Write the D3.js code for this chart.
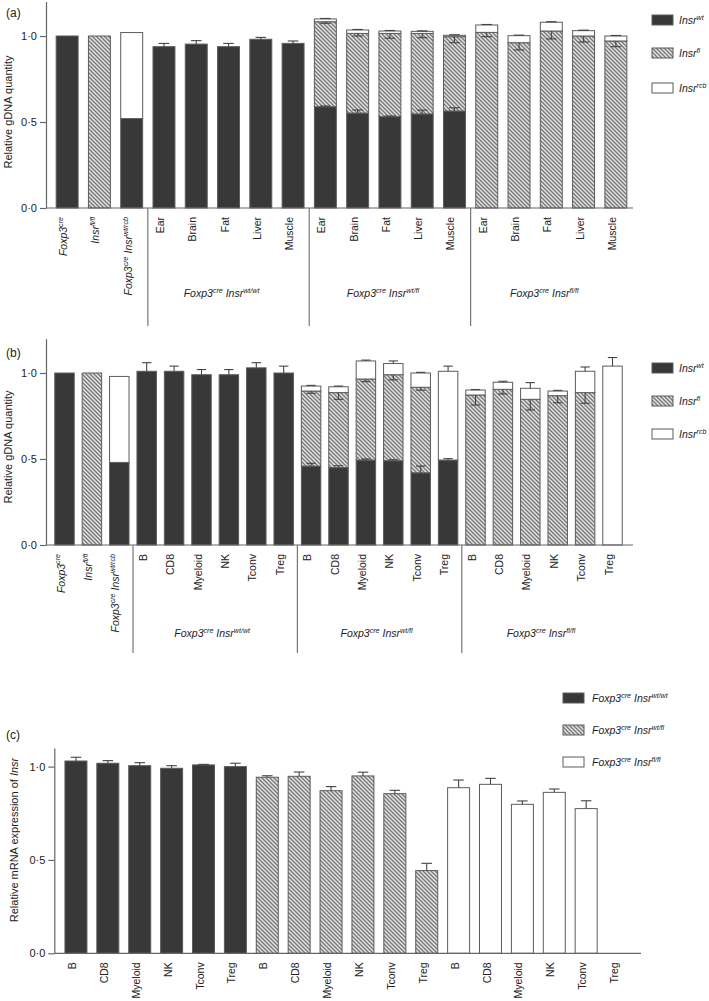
<!DOCTYPE html>
<html><head><meta charset="utf-8">
<script src="https://cdn.jsdelivr.net/npm/d3@7"></script>
<style>
body{margin:0;background:#fff}
text{font-family:"Liberation Sans",Arial,Helvetica,sans-serif;fill:#222}
</style>
</head><body>
<svg id="chart" width="709" height="1001"></svg>
<script>
// ---------------- DATA ----------------
// Panel (a): gDNA, tissues
const aCategories = ["Foxp3^{cre}","Insr^{fl/fl}","Foxp3^{cre} Insr^{wt/rcb}",
  "Ear","Brain","Fat","Liver","Muscle",
  "Ear","Brain","Fat","Liver","Muscle",
  "Ear","Brain","Fat","Liver","Muscle"];
const aWt     = [1.00,0,0.52, 0.938,0.953,0.938,0.981,0.957, 0.589,0.552,0.531,0.547,0.564, 0,0,0,0,0];
const aWtErr  = [0,0,0, 0.019,0.020,0.019,0.011,0.014, 0.004,0.018,0.004,0.022,0.019, 0,0,0,0,0];
const aFl     = [0,1.00,0, 0,0,0,0,0, 0.494,0.463,0.484,0.468,0.432, 1.021,0.961,1.029,1.000,0.971];
const aFlErr  = [0,0,0, 0,0,0,0,0, 0.009,0.015,0.028,0.025,0.035, 0.025,0.042,0.046,0.035,0.033];
const aRcb    = [0,0,0.50, 0,0,0,0,0, 0.016,0.020,0.014,0.012,0.008, 0.043,0.041,0.051,0.031,0.029];
const aRcbErr = [0,0,0, 0,0,0,0,0, 0.003,0.003,0.003,0.003,0.003, 0.003,0.003,0.003,0.003,0.003];
const aGroups = [["Foxp3^{cre} Insr^{wt/wt}",3,7],["Foxp3^{cre} Insr^{wt/fl}",8,12],["Foxp3^{cre} Insr^{fl/fl}",13,17]];

// Panel (b): gDNA, immune cells
const bCategories = ["Foxp3^{cre}","Insr^{fl/fl}","Foxp3^{cre} Insr^{wt/rcb}",
  "B","CD8","Myeloid","NK","Tconv","Treg",
  "B","CD8","Myeloid","NK","Tconv","Treg",
  "B","CD8","Myeloid","NK","Tconv","Treg"];
const bWt     = [1.00,0,0.48, 1.01,1.01,0.99,0.99,1.03,1.00, 0.459,0.450,0.494,0.490,0.420,0.494, 0,0,0,0,0,0];
const bWtErr  = [0,0,0, 0.05,0.03,0.03,0.03,0.03,0.04, 0.016,0.011,0.006,0.006,0.039,0.008, 0,0,0,0,0,0];
const bFl     = [0,1.00,0, 0,0,0,0,0,0, 0.436,0.436,0.471,0.500,0.497,0, 0.872,0.905,0.847,0.868,0.886,0];
const bFlErr  = [0,0,0, 0,0,0,0,0,0, 0.013,0.039,0.015,0.030,0.017,0, 0.058,0.027,0.062,0.041,0.062,0];
const bRcb    = [0,0,0.50, 0,0,0,0,0,0, 0.029,0.034,0.105,0.065,0.083,0.516, 0.029,0.041,0.064,0.027,0.124,1.04];
const bRcbErr = [0,0,0, 0,0,0,0,0,0, 0.004,0.004,0.005,0.015,0.004,0.030, 0.003,0.006,0.033,0.004,0.025,0.050];
const bGroups = [["Foxp3^{cre} Insr^{wt/wt}",3,8],["Foxp3^{cre} Insr^{wt/fl}",9,14],["Foxp3^{cre} Insr^{fl/fl}",15,20]];

// Panel (c): mRNA
const cCategories = ["B","CD8","Myeloid","NK","Tconv","Treg",
  "B","CD8","Myeloid","NK","Tconv","Treg",
  "B","CD8","Myeloid","NK","Tconv","Treg"];
const cGenotype = [0,0,0,0,0,0, 1,1,1,1,1,1, 2,2,2,2,2,2];
const cValues = [1.030,1.018,1.005,0.991,1.009,1.000, 0.943,0.948,0.871,0.950,0.855,0.443, 0.887,0.905,0.798,0.862,0.775,0];
const cErr    = [0.020,0.014,0.016,0.014,0.003,0.018, 0.008,0.023,0.022,0.020,0.018,0.039, 0.041,0.032,0.018,0.018,0.042,0];

const legendAB = ["Insr^{wt}","Insr^{fl}","Insr^{rcb}"];
const legendC  = ["Foxp3^{cre} Insr^{wt/wt}","Foxp3^{cre} Insr^{wt/fl}","Foxp3^{cre} Insr^{fl/fl}"];
const yTicks = [0,0.5,1.0];

// ---------------- STYLE ----------------
const DARK = "#383838", STROKE = "#5c5c5c", AXIS = "#666";
const svg = d3.select("#chart");
const defs = svg.append("defs");
const pat = defs.append("pattern").attr("id","hatch").attr("patternUnits","userSpaceOnUse")
  .attr("width",4).attr("height",4);
pat.append("rect").attr("width",4).attr("height",4).attr("fill","#e2e2e2");
pat.append("path").attr("d","M-1,-1 L5,5 M-1,3 L1,5 M3,-1 L5,1")
  .attr("stroke","#777").attr("stroke-width",1.3);
const FILLS = [DARK,"url(#hatch)","#fff"];

function rich(t, str, fs){
  const parts = str.split(/(\^\{[^}]*\})/).filter(s=>s.length);
  let up=false;
  parts.forEach(p=>{
    if(p.startsWith("^{")){
      t.append("tspan").attr("font-size",fs*0.68).attr("dy",-fs*0.4).text(p.slice(2,-1));
      up=true;
    } else {
      t.append("tspan").attr("font-size",fs).attr("dy",up?fs*0.4:0).text(p);
      up=false;
    }
  });
  if(str.includes("^{")) t.attr("font-style","italic");
  return t;
}

function errBar(g, x, yFrom, yTo, hw){
  g.append("line").attr("x1",x).attr("x2",x).attr("y1",yFrom).attr("y2",yTo)
    .attr("stroke","#444").attr("stroke-width",1.1);
  g.append("line").attr("x1",x-hw).attr("x2",x+hw).attr("y1",yTo).attr("y2",yTo)
    .attr("stroke","#444").attr("stroke-width",1.1);
}

function yAxis(g, y, x0, title, titleX, titleY, label, labelY){
  const ax = g.append("g").attr("transform",`translate(${x0},0)`)
    .call(d3.axisLeft(y).tickValues(yTicks).tickSize(6).tickSizeOuter(0).tickPadding(3)
      .tickFormat(d=>d.toFixed(1).replace(".","\u00b7")));
  ax.select(".domain").attr("stroke",AXIS).attr("stroke-width",1.2);
  ax.selectAll(".tick line").attr("stroke",AXIS).attr("stroke-width",1.2);
  ax.selectAll(".tick text").attr("font-size",11).attr("fill","#222")
    .attr("font-family","'Liberation Sans',Arial,sans-serif");
  const t = g.append("text").attr("transform",`translate(${titleX},${titleY}) rotate(-90)`)
    .attr("text-anchor","middle").attr("font-size",11);
  title.forEach(([s,it])=>t.append("tspan").attr("font-style",it?"italic":"normal").text(s));
  g.append("text").attr("x",6).attr("y",labelY).attr("font-size",12).text(label);
}

function xLabels(g, x, cats, y0, fs){
  cats.forEach((c,i)=>{
    const t = g.append("text")
      .attr("transform",`translate(${x(i)+x.bandwidth()/2},${y0+9}) rotate(-90)`)
      .attr("text-anchor","end").attr("dy","0.35em");
    rich(t, c, fs);
  });
}

function legend(g, items, lx, ly, tx){
  items.forEach((s,i)=>{
    g.append("rect").attr("x",lx).attr("y",ly[i]).attr("width",21).attr("height",10)
      .attr("fill",FILLS[i]).attr("stroke",STROKE).attr("stroke-width",1);
    rich(g.append("text").attr("x",tx).attr("y",ly[i]+9),s,10.5);
  });
}

function stackedPanel(o){
  const g = svg.append("g");
  const n = o.cats.length;
  const x = d3.scaleBand().domain(d3.range(n)).range(o.xr).paddingInner(o.pad).paddingOuter(o.pad/2);
  const y = d3.scaleLinear().domain([0,1.2]).range([o.y0, o.y0-1.2*172]);
  const bw = x.bandwidth(), hw = bw*0.24;
  const series = [o.wt,o.fl,o.rcb];
  const stack = d3.range(n).map(i=>({wt:o.wt[i],fl:o.fl[i],rcb:o.rcb[i],i}));
  const st = d3.stack().keys(["wt","fl","rcb"])(stack);
  st.forEach((layer,k)=>{
    g.selectAll(null).data(layer.filter(d=>d[1]-d[0]>0)).join("rect")
      .attr("x",d=>x(d.data.i)).attr("width",bw)
      .attr("y",d=>y(d[1])).attr("height",d=>y(d[0])-y(d[1]))
      .attr("fill",FILLS[k]).attr("stroke",STROKE).attr("stroke-width",1);
  });
  const eg = g.append("g");
  for(let i=0;i<n;i++){
    const cx = x(i)+bw/2;
    const t1 = o.wt[i], t2 = t1+o.fl[i], t3 = t2+o.rcb[i];
    if(o.wtErr[i]>0) errBar(eg,cx,y(t1),y(t1+o.wtErr[i]),hw);
    if(o.flErr[i]>0) errBar(eg,cx,y(t2),y(t2-o.flErr[i]),hw);
    if(o.rcbErr[i]>0) errBar(eg,cx,y(t3),y(t3+o.rcbErr[i]),hw);
  }
  // x axis
  g.append("line").attr("x1",o.ax).attr("x2",o.xEnd).attr("y1",o.y0).attr("y2",o.y0)
    .attr("stroke",AXIS).attr("stroke-width",1.2);
  yAxis(g,y,o.ax,[["Relative gDNA quantity",false]],12,o.titleY,o.label,o.labelY);
  xLabels(g,x,o.cats,o.y0,10.5);
  // group separators and labels
  const step = x.step();
  const seps = [o.groups[0][1], o.groups[1][1], o.groups[2][1]];
  seps.forEach(s=>{
    const sx = x(s)+bw/2-step/2;
    g.append("line").attr("x1",sx).attr("x2",sx).attr("y1",o.y0).attr("y2",o.sepEnd)
      .attr("stroke","#777").attr("stroke-width",1.2);
  });
  o.groups.forEach(([lab,a,b])=>{
    const cx = (x(a)+x(b)+bw)/2 + o.gOff;
    rich(g.append("text").attr("x",cx).attr("y",o.gY).attr("text-anchor","middle"),lab,10.5);
  });
  legend(g,legendAB,652,o.legY,679);
}

stackedPanel({cats:aCategories,wt:aWt,wtErr:aWtErr,fl:aFl,flErr:aFlErr,rcb:aRcb,rcbErr:aRcbErr,groups:aGroups,
  xr:[51,632],pad:0.32,y0:208,ax:46,xEnd:633,titleY:112,label:"(a)",labelY:17,
  sepEnd:326,gY:297,gOff:-7,legY:[15,48,83]});
stackedPanel({cats:bCategories,wt:bWt,wtErr:bWtErr,fl:bFl,flErr:bFlErr,rcb:bRcb,rcbErr:bRcbErr,groups:bGroups,
  xr:[50.8,626.2],pad:0.29,y0:545,ax:46,xEnd:633,titleY:447,label:"(b)",labelY:357,
  sepEnd:653,gY:637,gOff:-3,legY:[363,396,429]});

// Panel (c)
(function(){
  const g = svg.append("g");
  const n = cCategories.length;
  const x = d3.scaleBand().domain(d3.range(n)).range([60,634]).paddingInner(0.31).paddingOuter(0.155);
  const y0 = 953.3;
  const y = d3.scaleLinear().domain([0,1.1]).range([y0, y0-1.1*186.7]);
  const bw = x.bandwidth();
  g.selectAll(null).data(cValues.map((v,i)=>({v,i})).filter(d=>d.v>0)).join("rect")
    .attr("x",d=>x(d.i)).attr("width",bw).attr("y",d=>y(d.v)).attr("height",d=>y0-y(d.v))
    .attr("fill",d=>FILLS[cGenotype[d.i]]).attr("stroke",STROKE).attr("stroke-width",1);
  cValues.forEach((v,i)=>{ if(cErr[i]>0) errBar(g,x(i)+bw/2,y(v),y(v+cErr[i]),bw*0.24); });
  g.append("line").attr("x1",54.3).attr("x2",641).attr("y1",y0).attr("y2",y0)
    .attr("stroke",AXIS).attr("stroke-width",1.2);
  yAxis(g,y,54.3,[["Relative mRNA expression of ",false],["Insr",true]],18,840,"(c)",739);
  xLabels(g,x,cCategories,y0,10.5);
  legend(g,legendC,563,[693,725,757],592);
})();
</script>
</body></html>
